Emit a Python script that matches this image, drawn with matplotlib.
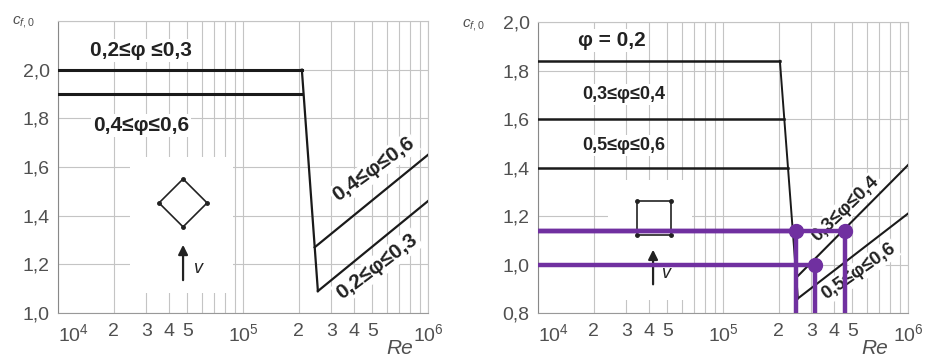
import matplotlib
matplotlib.use("Agg")
import matplotlib.pyplot as plt
from matplotlib.ticker import FixedLocator, LogLocator, NullFormatter
from matplotlib.patches import Rectangle, Polygon

plt.rcParams['font.family'] = ['Liberation Sans', 'DejaVu Sans']
plt.rcParams['mathtext.fontset'] = 'custom'
plt.rcParams['mathtext.rm'] = 'Liberation Sans'
plt.rcParams['mathtext.it'] = 'Liberation Sans:italic'

# x ticks (Re) shared by both panels
re_ticks = [1e4, 2e4, 3e4, 4e4, 5e4, 1e5, 2e5, 3e5, 4e5, 5e5, 1e6]
re_labels = ["$10^4$", "2", "3", "4", "5", "$10^5$", "2", "3", "4", "5", "$10^6$"]

# left panel: diamond section
left_yticks = [1.0, 1.2, 1.4, 1.6, 1.8, 2.0]
left_flat_re = [1e4, 2.08e5]
left_flat_hi = [2.0, 2.0]
left_flat_lo = [1.9, 1.9]
left_drop_re = [2.08e5, 2.54e5]
left_drop_cf = [2.0, 1.09]
left_diag_hi_re = [2.44e5, 1e6]
left_diag_hi_cf = [1.27, 1.65]
left_diag_lo_re = [2.54e5, 1e6]
left_diag_lo_cf = [1.09, 1.46]

# right panel: square section
right_yticks = [0.8, 1.0, 1.2, 1.4, 1.6, 1.8, 2.0]
right_flat_re = [[1e4, 2.03e5], [1e4, 2.14e5], [1e4, 2.24e5]]
right_flat_cf = [1.84, 1.6, 1.4]
right_drop_re = [2.03e5, 2.54e5]
right_drop_cf = [1.84, 0.86]
right_diag_hi_re = [2.49e5, 1e6]
right_diag_hi_cf = [0.946, 1.41]
right_diag_lo_re = [2.54e5, 1e6]
right_diag_lo_cf = [0.86, 1.21]

# purple reading lines
read_re = [2.48e5, 4.56e5, 3.14e5]
read_cf = [1.14, 1.14, 1.0]

purple = "#7030A0"
gray_txt = "#505050"

fig = plt.figure(figsize=(9.3, 3.6), dpi=100)
axL = fig.add_axes([58/930, 47/360, 370/930, 292/360])
axR = fig.add_axes([538/930, 47/360, 370/930, 291/360])


def style(ax, ylim, yticks):
    ax.set_xscale('log')
    ax.set_xlim(1e4, 1e6)
    ax.set_ylim(*ylim)
    ax.xaxis.set_major_locator(FixedLocator(re_ticks))
    ax.xaxis.set_minor_locator(LogLocator(base=10, subs=range(2, 10)))
    ax.xaxis.set_minor_formatter(NullFormatter())
    ax.set_xticklabels(re_labels)
    ax.set_yticks(yticks)
    ax.set_yticklabels([f"{v:.1f}".replace(".", ",") for v in yticks])
    ax.grid(True, which='both', axis='x', color='#c4c4c4', lw=0.8, zorder=0)
    ax.grid(True, which='major', axis='y', color='#c4c4c4', lw=0.8, zorder=0)
    ax.tick_params(which='both', length=0, labelsize=14, colors=gray_txt)
    ax.tick_params(axis='x', pad=7)
    ax.tick_params(axis='y', pad=6)
    for s in ax.spines.values():
        s.set_color('#c4c4c4')
        s.set_linewidth(0.8)
    ax.spines['left'].set_color('#888888')
    ax.spines['bottom'].set_color('#999999')
    ax.set_axisbelow(True)
    lab = ax.get_xticklabels()
    lab[0].set_horizontalalignment('left')


style(axL, (1.0, 2.2), left_yticks)
style(axR, (0.8, 2.0), right_yticks)

# extra grid line at 2.2 on the left panel
axL.axhline(2.2, color='#c4c4c4', lw=0.8, zorder=0)

# white patches behind the symbols
axL.add_patch(Rectangle((0.195, 0.068), 0.278, 0.466, transform=axL.transAxes,
                        facecolor='white', edgecolor='none', zorder=1))
axR.add_patch(Rectangle((0.189, 0.045), 0.227, 0.412, transform=axR.transAxes,
                        facecolor='white', edgecolor='none', zorder=1))

# left curves
axL.plot(left_flat_re, left_flat_hi, color='#1a1a1a', lw=2.2, zorder=3)
axL.plot(left_flat_re, left_flat_lo, color='#1a1a1a', lw=2.2, zorder=3)
axL.plot(left_drop_re, left_drop_cf, color='#1a1a1a', lw=1.6, zorder=3)
axL.plot(left_diag_hi_re, left_diag_hi_cf, color='#1a1a1a', lw=1.6, zorder=3)
axL.plot(left_diag_lo_re, left_diag_lo_cf, color='#1a1a1a', lw=1.6, zorder=3)

# right curves
for xs, c in zip(right_flat_re, right_flat_cf):
    axR.plot(xs, [c, c], color='#1a1a1a', lw=1.8, zorder=3)
axR.plot(right_drop_re, right_drop_cf, color='#1a1a1a', lw=1.4, zorder=3)
axR.plot(right_diag_hi_re, right_diag_hi_cf, color='#1a1a1a', lw=1.5, zorder=3)
axR.plot(right_diag_lo_re, right_diag_lo_cf, color='#1a1a1a', lw=1.5, zorder=3)

box = dict(facecolor='white', edgecolor='none', pad=1.5)
lbl = dict(fontweight='bold', color='#222222', ha='center', va='center', zorder=4)

axL.text(2.8e4, 2.08, "0,2≤φ ≤0,3", fontsize=15, bbox=box, **lbl)
axL.text(2.8e4, 1.77, "0,4≤φ≤0,6", fontsize=15, bbox=box, **lbl)
axL.text(5.1e5, 1.59, "0,4≤φ≤0,6", fontsize=15, rotation=36, bbox=box, **lbl)
axL.text(5.3e5, 1.19, "0,2≤φ≤0,3", fontsize=15, rotation=37, bbox=box, **lbl)

axR.text(2.5e4, 1.925, "φ = 0,2", fontsize=15, bbox=box, **lbl)
axR.text(2.9e4, 1.70, "0,3≤φ≤0,4", fontsize=13, bbox=box, **lbl)
axR.text(2.9e4, 1.49, "0,5≤φ≤0,6", fontsize=13, bbox=box, **lbl)
axR.text(4.6e5, 1.23, "0,3≤φ≤0,4", fontsize=13.5, rotation=44, bbox=box, **lbl)
axR.text(5.4e5, 0.97, "0,5≤φ≤0,6", fontsize=13.5, rotation=35, bbox=box, **lbl)

# diamond symbol with flow arrow (left)
dx, dy, hw, hh = 0.338, 0.377, 0.065, 0.082
verts = [(dx, dy + hh), (dx + hw, dy), (dx, dy - hh), (dx - hw, dy)]
axL.add_patch(Polygon(verts, closed=True, fill=False, edgecolor='#222222', lw=1.2,
                      transform=axL.transAxes, zorder=4))
axL.plot([v[0] for v in verts], [v[1] for v in verts], 'o', color='#222222', ms=2.5,
         transform=axL.transAxes, zorder=4)
axL.annotate("", xy=(0.338, 0.243), xytext=(0.338, 0.103), xycoords='axes fraction',
             arrowprops=dict(arrowstyle='-|>', color='#222222', lw=1.6, mutation_scale=14),
             zorder=4)
axL.text(0.378, 0.154, "v", style='italic', fontsize=13, color='#222222',
         transform=axL.transAxes, ha='center', va='center', zorder=4)

# square symbol with flow arrow (right)
axR.add_patch(Rectangle((0.268, 0.268), 0.091, 0.117, fill=False, edgecolor='#222222',
                        lw=1.2, transform=axR.transAxes, zorder=4))
sq_x = [0.268, 0.359, 0.268, 0.359]
sq_y = [0.268, 0.268, 0.385, 0.385]
axR.plot(sq_x, sq_y, 'o', color='#222222', ms=2.5, transform=axR.transAxes, zorder=4)
axR.annotate("", xy=(0.311, 0.227), xytext=(0.311, 0.089), xycoords='axes fraction',
             arrowprops=dict(arrowstyle='-|>', color='#222222', lw=1.6, mutation_scale=14),
             zorder=4)
axR.text(0.345, 0.137, "v", style='italic', fontsize=13, color='#222222',
         transform=axR.transAxes, ha='center', va='center', zorder=4)

# purple reading lines on the right panel
for x, y in zip(read_re, read_cf):
    axR.plot([1e4, x], [y, y], color=purple, lw=3.2, zorder=6, clip_on=False,
             solid_capstyle='butt')
    axR.plot([x, x], [y, 0.8], color=purple, lw=3.2, zorder=6, solid_capstyle='butt')
    axR.plot([x], [y], 'o', color=purple, ms=10, zorder=7)

# axis names
fig.text(12/930, 1 - 22/360, "$c_{f,0}$", fontsize=11, color=gray_txt, va='center')
fig.text(462/930, 1 - 25/360, "$c_{f,0}$", fontsize=11, color=gray_txt, va='center')
fig.text(400/930, 12/360, "Re", style='italic', fontsize=15, color=gray_txt, ha='center', va='center')
fig.text(875/930, 12/360, "Re", style='italic', fontsize=15, color=gray_txt, ha='center', va='center')

fig.savefig("out.png", dpi=100, facecolor='white')
